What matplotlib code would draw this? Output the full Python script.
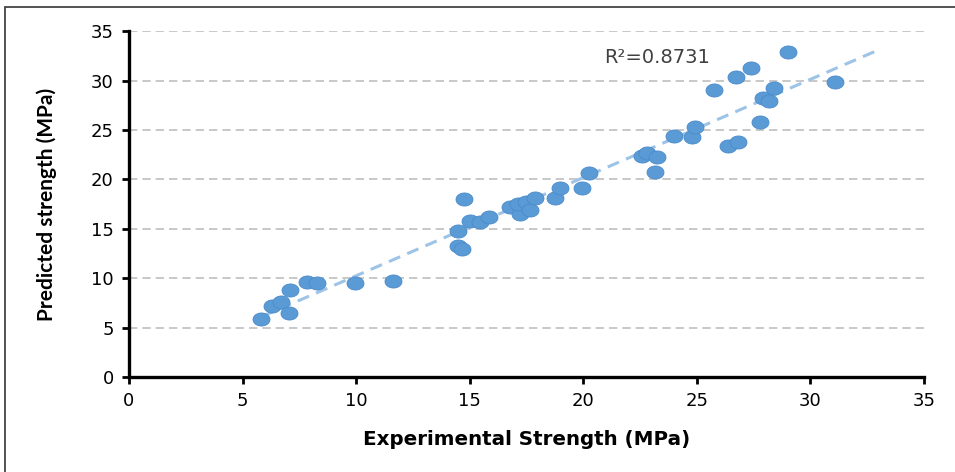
import numpy as np
import matplotlib
matplotlib.use("Agg")
import matplotlib.pyplot as plt
from matplotlib.patches import Rectangle

# valeurs
experimental = [5.83, 6.28, 6.69, 7.03, 7.09, 7.82, 8.29, 9.95, 11.64,
                14.75, 14.5, 14.5, 14.65, 15.0, 15.45, 15.85, 16.78, 17.2, 17.13,
                17.5, 17.65, 17.88, 18.76, 18.98, 19.93, 20.27,
                22.58, 22.8, 23.24, 23.18, 24.01, 24.8, 24.92, 26.36, 26.83,
                27.78, 27.93, 28.19, 28.4, 25.76, 26.71, 27.39, 29.02, 31.09]
predicted = [5.87, 7.15, 7.59, 6.44, 8.8, 9.64, 9.54, 9.48, 9.74,
             18.0, 14.8, 13.25, 12.95, 15.8, 15.7, 16.2, 17.2, 16.5, 17.5,
             17.7, 16.9, 18.1, 18.1, 19.1, 19.1, 20.6,
             22.35, 22.69, 22.28, 20.7, 24.38, 24.25, 25.26, 23.4, 23.74,
             25.83, 28.19, 27.92, 29.2, 29.03, 30.32, 31.29, 32.85, 29.81]
r2_label = "R²=0.8731"
# courbe de tendance (pente, ordonnée à l'origine)
trend_slope = 0.994
trend_intercept = 0.3
trend_end = 33.0
ticks = [0, 5, 10, 15, 20, 25, 30, 35]

plt.rcParams['font.family'] = ['DejaVu Sans']

fig = plt.figure(figsize=(9.55, 4.72), dpi=100)
ax = fig.add_axes([0.135, 0.2013, 0.8325, 0.7327])

# cadre autour de la figure
fig.patches.append(Rectangle((5 / 955, -0.05), 1.2, 1 - 7 / 472 + 0.05,
                             transform=fig.transFigure, fill=False,
                             edgecolor='#444444', linewidth=1.3))

x = np.array(experimental)
y = np.array(predicted)

xt = np.array([x.min(), trend_end])
ax.plot(xt, trend_slope * xt + trend_intercept, linestyle=(0, (4, 2.5)),
        color='#9DC3E6', linewidth=2.2, zorder=2)

t = np.linspace(0, 2 * np.pi, 40)
ellipse = np.column_stack([1.3 * np.cos(t), np.sin(t)])
ax.scatter(x, y, marker=ellipse, s=150, color='#5B9BD5', edgecolors='#4A8ACB',
           linewidths=0.6, zorder=3)

ax.text(23.25, 32.37, r2_label, fontsize=14, color='#404040', ha='center',
        va='center')

ax.set_xlim(0, 35)
ax.set_ylim(0, 35)
ax.set_xticks(ticks)
ax.set_yticks(ticks)
ax.tick_params(labelsize=13, colors='#000000', width=2, length=5,
               direction='out', pad=6)
ax.yaxis.grid(True, linestyle=(0, (5, 3)), color='#BFBFBF', linewidth=1.2)
ax.set_axisbelow(True)
for s in ['top', 'right']:
    ax.spines[s].set_visible(False)
for s in ['left', 'bottom']:
    ax.spines[s].set_linewidth(2.4)
    ax.spines[s].set_color('#000000')

ax.set_xlabel("Experimental Strength (MPa)", fontsize=14.3, fontweight='bold',
              labelpad=14)
ax.set_ylabel("Predicted strength (MPa)", fontsize=15, fontweight='bold',
              labelpad=24, family=['Lato', 'DejaVu Sans'])

fig.savefig("out.png", dpi=100)
